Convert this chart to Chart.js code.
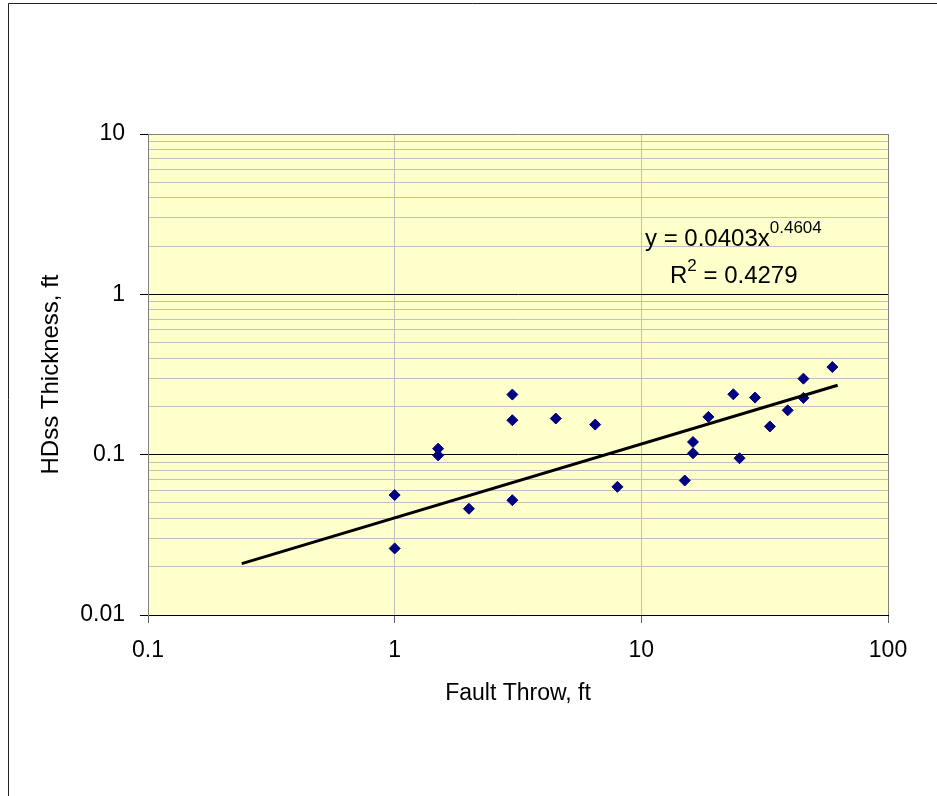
<!DOCTYPE html>
<html>
<head>
<meta charset="utf-8">
<script src="https://cdn.jsdelivr.net/npm/chart.js@4/dist/chart.umd.min.js"></script>
<style>
  html, body { margin: 0; padding: 0; background: #fff; }
  canvas { display: block; }
</style>
</head>
<body>
<canvas id="chart" width="937" height="796"></canvas>
<script>
// fault throw (ft) vs HDss thickness (ft)
const throwFt = [1, 1, 1.5, 1.5, 2, 3, 3, 3, 4.5, 6.5, 8, 15, 16.2, 16.2, 18.7, 23.6, 25, 28.9, 33.2, 39.2, 45.4, 45.4, 59.5]
const thicknessFt = [0.056, 0.026, 0.109, 0.099, 0.046, 0.237, 0.164, 0.052, 0.168, 0.154, 0.063, 0.069, 0.120, 0.102, 0.172, 0.238, 0.095, 0.227, 0.150, 0.189, 0.298, 0.226, 0.352]

// power trendline end points
const trendX = [0.24, 62.5]
const trendY = [0.0209, 0.271]

const xDecades = [0.1, 1, 10, 100]
const yDecades = [0.01, 0.1, 1, 10]

const eqText = 'y = 0.0403x'
const eqExp = '0.4604'
const r2Text = ' = 0.4279'

const FONT = 'Liberation Sans, Arial, sans-serif'

function isDecade(v) {
  const l = Math.log10(v)
  return Math.abs(l - Math.round(l)) < 1e-6
}

function logTicks(decades) {
  const out = []
  decades.forEach((d, i) => {
    out.push({ value: d, major: true })
    if (i < decades.length - 1) {
      for (let k = 2; k <= 9; k++) out.push({ value: d * k })
    }
  })
  return out
}

const points = throwFt.map((x, i) => ({ x: x, y: thicknessFt[i] }))
const trend = trendX.map((x, i) => ({ x: x, y: trendY[i] }))

const plotBg = {
  id: 'plotBg',
  beforeDraw(chart) {
    const { ctx, chartArea: a } = chart
    ctx.save()
    ctx.fillStyle = '#FFFFCC'
    ctx.fillRect(a.left, a.top, a.right - a.left, a.bottom - a.top)
    ctx.restore()
  },
  afterDraw(chart) {
    const { ctx, chartArea: a } = chart
    ctx.save()
    // outer frame (top + left only, rest is cut off)
    ctx.strokeStyle = '#222'
    ctx.lineWidth = 1
    ctx.beginPath()
    ctx.moveTo(8.5, 796)
    ctx.lineTo(8.5, 3.5)
    ctx.lineTo(937, 3.5)
    ctx.stroke()

    // equation label
    ctx.fillStyle = '#000'
    ctx.textBaseline = 'alphabetic'
    ctx.font = '24px ' + FONT
    const ex = a.left + 497, ey = a.top + 112
    ctx.fillText(eqText, ex, ey)
    const w = ctx.measureText(eqText).width
    ctx.font = '17px ' + FONT
    ctx.fillText(eqExp, ex + w, ey - 13)

    const rx = a.left + 522, ry = a.top + 149
    ctx.font = '24px ' + FONT
    ctx.fillText('R', rx, ry)
    const rw = ctx.measureText('R').width
    ctx.font = '17px ' + FONT
    ctx.fillText('2', rx + rw, ry - 12)
    const sw = ctx.measureText('2').width
    ctx.font = '24px ' + FONT
    ctx.fillText(r2Text, rx + rw + sw, ry)
    ctx.restore()
  }
}

const ctx = document.getElementById('chart').getContext('2d')
const myChart = new Chart(ctx, {
  type: 'scatter',
  data: {
    datasets: [
      {
        label: 'HDss',
        data: points,
        pointStyle: 'rectRot',
        pointRadius: 5.5,
        backgroundColor: '#000080',
        borderColor: '#000080',
        borderWidth: 1,
        order: 2
      },
      {
        label: 'Power trend',
        data: trend,
        showLine: true,
        pointRadius: 0,
        borderColor: '#000',
        borderWidth: 3,
        order: 1
      }
    ]
  },
  options: {
    responsive: false,
    animation: false,
    layout: { padding: { left: 0, top: 134, right: 49, bottom: 0 } },
    plugins: { legend: { display: false }, tooltip: { enabled: false } },
    scales: {
      x: {
        type: 'logarithmic',
        min: 0.1,
        max: 100,
        afterBuildTicks: s => { s.ticks = logTicks(xDecades) },
        afterFit: s => { s.height = 181 },
        border: { color: '#000', width: 1 },
        grid: {
          color: c => {
            const v = c.tick.value
            if (v === 100) return '#808080'
            return isDecade(v) ? '#C0C0C0' : 'rgba(0,0,0,0)'
          },
          tickColor: c => isDecade(c.tick.value) ? '#606060' : 'rgba(0,0,0,0)',
          tickLength: 8
        },
        ticks: {
          autoSkip: false,
          maxRotation: 0,
          padding: 14,
          color: '#000',
          font: { family: FONT, size: 23 },
          callback: v => isDecade(v) ? String(v) : ''
        },
        title: {
          display: true,
          text: 'Fault Throw, ft',
          color: '#000',
          font: { family: FONT, size: 23 },
          padding: { top: 0, bottom: 89 }
        }
      },
      y: {
        type: 'logarithmic',
        min: 0.01,
        max: 10,
        afterBuildTicks: s => { s.ticks = logTicks(yDecades) },
        afterFit: s => { s.width = 148 },
        border: { color: '#808080', width: 1 },
        grid: {
          color: c => {
            const v = c.tick.value
            if (v === 10) return '#808080'
            return isDecade(v) ? '#000' : '#C0C0C0'
          },
          tickColor: c => isDecade(c.tick.value) ? '#000' : 'rgba(0,0,0,0)',
          tickLength: 8
        },
        ticks: {
          autoSkip: false,
          padding: 15,
          color: '#000',
          font: { family: FONT, size: 23 },
          callback: v => isDecade(v) ? String(v) : ''
        },
        title: {
          display: true,
          text: 'HDss Thickness, ft',
          color: '#000',
          font: { family: FONT, size: 24 },
          padding: { top: 37, bottom: 0 }
        }
      }
    }
  },
  plugins: [plotBg]
})
</script>
</body>
</html>
